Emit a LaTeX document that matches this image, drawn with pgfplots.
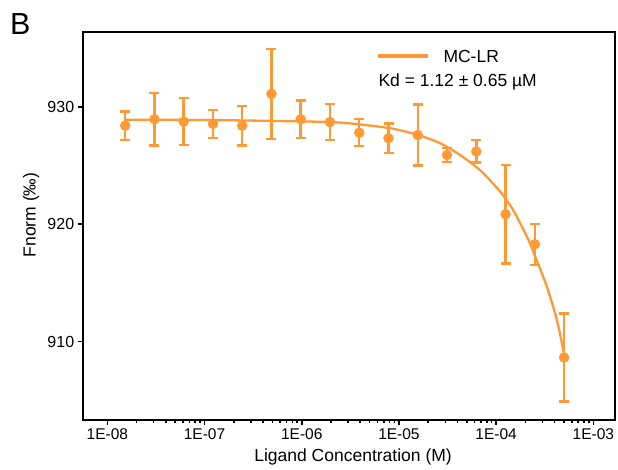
\documentclass[border=0pt]{standalone}
\usepackage{fontspec}
\setmainfont{Liberation Sans}
\usepackage{pgfplots}
\pgfplotsset{compat=1.18}
\definecolor{mcorange}{RGB}{255,153,51}

\begin{document}
\begin{tikzpicture}
\useasboundingbox (0,0) rectangle (618pt,470pt);
\begin{axis}[
  at={(82.7pt,50pt)}, anchor=south west,
  scale only axis, width=532.3pt, height=388.3pt,
  xmode=log, xmin=5.58e-9, xmax=1.67e-3,
  ymin=903.33, ymax=936.4,
  xtick={1e-8,1e-7,1e-6,1e-5,1e-4,1e-3},
  xticklabels={1E-08,1E-07,1E-06,1E-05,1E-04,1E-03},
  ytick={910,920,930},
  minor xtick={}, minor tick num=0,
  /pgf/number format/assume math mode=true,
  tick align=outside, tick pos=left,
  major tick length=5pt,
  every tick/.style={black, line width=1.6pt},
  axis line style={line width=1.8pt},
  xticklabel style={font=\fontsize{15.5}{18}\selectfont},
  yticklabel style={font=\fontsize{16}{18}\selectfont},
  xlabel={Ligand Concentration (M)},
  ylabel={Fnorm (‰)},
  label style={font=\fontsize{17.5}{20}\selectfont},
  xlabel style={at={([yshift=-37pt]axis description cs:0.508,0)}, anchor=center},
  ylabel style={at={([xshift=-51.7pt]axis description cs:0,0.528)}, anchor=center},
  clip=false,
]
% fitted curve
\addplot[mcorange, line width=2.3pt, smooth, no marks] coordinates {
(1.5e-8,928.9) (1e-7,928.88) (5e-7,928.8) (2e-6,928.7) (4e-6,928.5)
(7.8e-6,928.2) (1.03e-5,928.0) (1.58e-5,927.6) (2.65e-5,926.9)
(4.25e-5,925.9) (6.84e-5,924.6) (1.096e-4,922.8) (1.503e-4,921.2)
(1.69e-4,920.4) (2.14e-4,918.7) (2.51e-4,917.3) (3.32e-4,914.7)
(4.2e-4,911.9) (4.99e-4,909.0)
};
% measured points with error bars
\addplot[mcorange, only marks, mark=*, mark size=5pt, mark options={fill=mcorange, draw=mcorange},
  error bars/.cd, y dir=both, y explicit,
  error bar style={line width=2.5pt, mcorange},
  error mark=-,
  error mark options={rotate=90, mcorange, line width=2.3pt, mark size=5pt}]
coordinates {
(1.526e-8,928.4) +- (0,1.2)
(3.052e-8,928.95) +- (0,2.25)
(6.104e-8,928.75) +- (0,2.0)
(1.221e-7,928.55) +- (0,1.2)
(2.441e-7,928.4) +- (0,1.7)
(4.883e-7,931.1) +- (0,3.85)
(9.766e-7,928.95) +- (0,1.6)
(1.953e-6,928.7) +- (0,1.55)
(3.906e-6,927.8) +- (0,1.15)
(7.813e-6,927.33) +- (0,1.25)
(1.563e-5,927.6) +- (0,2.6)
(3.125e-5,925.9) +- (0,0.6)
(6.25e-5,926.2) +- (0,0.95)
(1.25e-4,920.85) +- (0,4.2)
(2.5e-4,918.3) +- (0,1.75)
(5.0e-4,908.65) +- (0,3.75)
};
\end{axis}
\draw[mcorange, line width=4.5pt] (378.3pt,414pt) -- (428.3pt,414pt);
\node[anchor=base west, inner sep=0pt, font=\fontsize{17.5}{20}\selectfont] at (443.3pt,407.7pt) {MC-LR};
\node[anchor=base west, inner sep=0pt, font=\fontsize{17.5}{20}\selectfont] at (378.3pt,383.7pt) {Kd = 1.12 ± 0.65 µM};
\node[anchor=base west, inner sep=0pt, font=\fontsize{30.5}{34}\selectfont] at (10pt,435pt) {B};
\end{tikzpicture}
\end{document}
